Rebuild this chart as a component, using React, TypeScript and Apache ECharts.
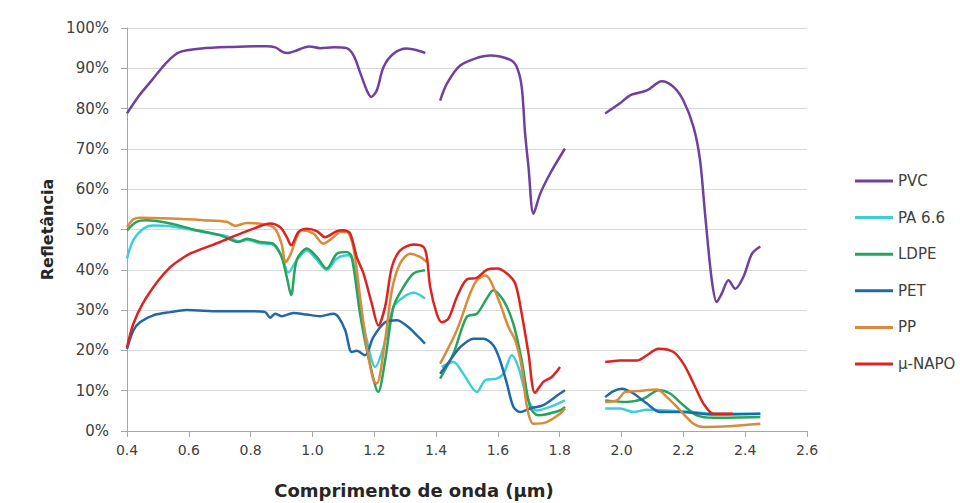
import React, { useEffect, useRef } from "react";
import * as echarts from "echarts";

const GAP = "-";

const pvc: (number | string)[][] = [
  [0.40, 78.8], [0.44, 83.3], [0.48, 87], [0.53, 91.6], [0.57, 94], [0.64, 94.9], [0.74, 95.3], [0.85, 95.5], [0.88, 95.2], [0.905, 94], [0.92, 93.8], [0.94, 94.2], [0.99, 95.4], [1.025, 95], [1.07, 95.2], [1.11, 95], [1.133, 93.2], [1.154, 89], [1.176, 84.5], [1.19, 82.9], [1.208, 84.5], [1.23, 90.3], [1.262, 93.6], [1.305, 94.9], [1.338, 94.5], [1.365, 93.8],
  [1.39, GAP],
  [1.413, 82], [1.435, 86.2], [1.478, 90.7], [1.542, 92.8], [1.575, 93.2], [1.64, 92.1], [1.661, 90.3], [1.677, 85.4], [1.688, 73.8], [1.699, 65.5], [1.715, 53.9], [1.737, 58.9], [1.769, 63.9], [1.817, 70.1],
  [1.88, GAP],
  [1.947, 78.8], [1.995, 81.3], [2.028, 83.3], [2.082, 84.5], [2.13, 86.8], [2.168, 85.4], [2.2, 82], [2.233, 75.4], [2.254, 67.2], [2.27, 54], [2.292, 37.4], [2.308, 32], [2.324, 34.1], [2.346, 37.4], [2.368, 35.3], [2.394, 38.2], [2.422, 44], [2.449, 45.8],
];

const pa66: (number | string)[][] = [
  [0.40, 42.8], [0.42, 47.3], [0.453, 50.2], [0.485, 51], [0.54, 50.8], [0.647, 49.4], [0.733, 48.1], [0.76, 47], [0.79, 47.4], [0.83, 46.6], [0.873, 46.2], [0.9, 43.5], [0.922, 39.3], [0.95, 42.5], [0.982, 44.8], [1.014, 42.5], [1.046, 40], [1.079, 42.8], [1.116, 43.6], [1.13, 42.5], [1.154, 31], [1.176, 22.5], [1.203, 15.9], [1.23, 20.8], [1.262, 30.8], [1.294, 33.2], [1.327, 34.3], [1.364, 32.9],
  [1.39, GAP],
  [1.418, 15.9], [1.456, 17.1], [1.488, 14.2], [1.532, 9.7], [1.559, 12.6], [1.596, 13], [1.618, 14.2], [1.645, 18.8], [1.666, 15.9], [1.694, 8.4], [1.726, 5.1], [1.769, 6], [1.817, 7.6],
  [1.88, GAP],
  [1.947, 5.6], [1.995, 5.6], [2.039, 4.7], [2.082, 5.3], [2.147, 5.1], [2.233, 4.7], [2.297, 4.3], [2.449, 4.3],
];

const ldpe: (number | string)[][] = [
  [0.40, 49.8], [0.431, 51.9], [0.464, 52.3], [0.54, 51.5], [0.615, 50], [0.70, 48.6], [0.76, 46.9], [0.787, 47.7], [0.83, 46.9], [0.873, 46.5], [0.9, 43.2], [0.917, 38.2], [0.931, 33.7], [0.949, 42.4], [0.982, 45.3], [1.014, 43.2], [1.046, 40.3], [1.079, 44], [1.111, 44.4], [1.127, 43.2], [1.154, 29.1], [1.181, 18.4], [1.213, 9.7], [1.235, 17.5], [1.262, 30.8], [1.294, 35.7], [1.327, 39.1], [1.364, 39.9],
  [1.39, GAP],
  [1.413, 13], [1.456, 19.2], [1.499, 28.3], [1.532, 29.1], [1.564, 32.9], [1.585, 34.9], [1.618, 32.4], [1.65, 26.6], [1.677, 17.5], [1.704, 6], [1.731, 3.9], [1.801, 5.1], [1.817, 6],
  [1.88, GAP],
  [1.947, 7.6], [2.017, 7.2], [2.071, 8], [2.12, 10.1], [2.157, 9.3], [2.2, 6.4], [2.244, 3.9], [2.297, 3.3], [2.449, 3.5],
];

const pet: (number | string)[][] = [
  [0.40, 20.4], [0.421, 25], [0.442, 27], [0.485, 28.7], [0.54, 29.5], [0.593, 30], [0.70, 29.7], [0.81, 29.7], [0.847, 29.5], [0.863, 28.1], [0.879, 29.1], [0.9, 28.5], [0.938, 29.3], [0.981, 28.9], [1.025, 28.5], [1.068, 29.1], [1.084, 28.3], [1.106, 25], [1.127, 19.6], [1.143, 19.9], [1.17, 18.8], [1.197, 23.3], [1.235, 27], [1.273, 27.5], [1.31, 25.8], [1.338, 23.7], [1.364, 21.7],
  [1.39, GAP],
  [1.413, 14.2], [1.445, 17.5], [1.478, 20.8], [1.521, 22.9], [1.553, 22.9], [1.585, 21.3], [1.607, 17.5], [1.629, 11.8], [1.65, 6], [1.672, 4.7], [1.704, 5.6], [1.747, 6.4], [1.801, 9.3], [1.817, 10.1],
  [1.88, GAP],
  [1.947, 8.4], [1.974, 9.9], [2.001, 10.5], [2.039, 9.3], [2.082, 6.8], [2.125, 4.7], [2.19, 4.7], [2.297, 4.1], [2.449, 4.3],
];

const pp: (number | string)[][] = [
  [0.40, 50.6], [0.42, 52.5], [0.442, 52.9], [0.54, 52.7], [0.647, 52.3], [0.723, 51.9], [0.75, 50.9], [0.787, 51.6], [0.852, 51.2], [0.879, 50.2], [0.9, 46.5], [0.913, 41.9], [0.93, 44], [0.949, 48.1], [0.965, 49.8], [1.003, 49], [1.035, 46.5], [1.068, 48.1], [1.089, 49.4], [1.111, 49.4], [1.132, 45.7], [1.154, 33.3], [1.176, 20.8], [1.197, 12.6], [1.208, 11.8], [1.235, 22.5], [1.257, 34.9], [1.283, 41.5], [1.316, 44], [1.348, 43.2], [1.37, 41.9],
  [1.39, GAP],
  [1.413, 16.7], [1.467, 25], [1.51, 34.1], [1.532, 37.4], [1.559, 38.6], [1.575, 37.4], [1.607, 31.6], [1.634, 25.8], [1.656, 22.5], [1.677, 15.9], [1.694, 6], [1.715, 1.8], [1.758, 2.2], [1.801, 4.3], [1.817, 5.6],
  [1.88, GAP],
  [1.947, 7.2], [1.985, 7.6], [2.012, 9.7], [2.05, 9.9], [2.114, 10.3], [2.147, 8.4], [2.19, 5.1], [2.233, 1.8], [2.265, 1], [2.351, 1.2], [2.449, 1.8],
];

const napo: (number | string)[][] = [
  [0.40, 20.8], [0.42, 26.5], [0.45, 31.5], [0.50, 37.2], [0.539, 40.6], [0.566, 42.2], [0.604, 44], [0.647, 45.3], [0.701, 46.9], [0.755, 48.6], [0.809, 50.2], [0.863, 51.5], [0.895, 50.6], [0.917, 48.1], [0.931, 46.1], [0.955, 49.4], [0.982, 50.2], [1.014, 49.6], [1.041, 48.1], [1.079, 49.6], [1.1, 49.8], [1.122, 49], [1.143, 43.2], [1.165, 39.1], [1.192, 31.6], [1.213, 26.2], [1.235, 30.8], [1.257, 40.7], [1.284, 44.8], [1.327, 46.3], [1.359, 45.7], [1.37, 43.2], [1.381, 35.7], [1.402, 29.1], [1.418, 27], [1.44, 27.9], [1.467, 33.2], [1.499, 37.6], [1.532, 38], [1.564, 40], [1.597, 40.3], [1.629, 39.1], [1.656, 36.6], [1.677, 29.1], [1.699, 19.2], [1.72, 9.5], [1.747, 12.2], [1.774, 13.4], [1.801, 15.9],
  [1.88, GAP],
  [1.947, 17.1], [1.995, 17.5], [2.05, 17.5], [2.082, 18.8], [2.12, 20.4], [2.168, 19.6], [2.2, 16.7], [2.233, 11.8], [2.265, 6.8], [2.297, 4.3], [2.36, 4.3],
];

const seriesNames = ["PVC", "PA 6.6", "LDPE", "PET", "PP", "\u00b5-NAPO"];
const seriesData = [pvc, pa66, ldpe, pet, pp, napo];
const seriesColors = ["#7040A0", "#3CCFD8", "#26A35C", "#2268A8", "#D98A3A", "#DD2222"];

const FONT = "'DejaVu Sans', sans-serif";

export default function App() {
  const ref = useRef<HTMLDivElement>(null);
  useEffect(() => {
    if (!ref.current) return;
    const chart = echarts.init(ref.current, null, { renderer: "svg" });
    chart.setOption({
      animation: false,
      backgroundColor: "#ffffff",
      grid: { left: 127, right: 153, top: 28, bottom: 72 },
      legend: {
        orient: "vertical",
        left: 850,
        top: 168,
        itemWidth: 38,
        itemHeight: 3,
        itemGap: 20.6,
        icon: "rect",
        textStyle: { fontFamily: FONT, fontSize: 15, color: "#404040", lineHeight: 16 },
        data: seriesNames,
      },
      xAxis: {
        type: "value",
        min: 0.4,
        max: 2.6,
        interval: 0.2,
        axisLine: { show: true, lineStyle: { color: "#A6A6A6", width: 1 } },
        axisTick: { show: true, length: 6, lineStyle: { color: "#A6A6A6" } },
        axisLabel: {
          formatter: (v: number) => v.toFixed(1),
          fontFamily: FONT,
          fontSize: 14,
          color: "#404040",
          margin: 12,
        },
        splitLine: { show: false },
      },
      yAxis: {
        type: "value",
        min: 0,
        max: 100,
        interval: 10,
        name: "Reflet\u00e2ncia",
        nameLocation: "middle",
        nameGap: 68,
        nameTextStyle: { fontFamily: FONT, fontSize: 16, fontWeight: "bold", color: "#262626" },
        axisLine: { show: true, lineStyle: { color: "#A6A6A6", width: 1 } },
        axisTick: { show: true, length: 6, lineStyle: { color: "#A6A6A6" } },
        axisLabel: {
          formatter: "{value}%",
          fontFamily: FONT,
          fontSize: 15,
          color: "#404040",
          margin: 18,
        },
        splitLine: { show: true, lineStyle: { color: "#D9D9D9", width: 1 } },
      },
      graphic: [
        {
          type: "text",
          x: 414,
          y: 490,
          style: {
            text: "Comprimento de onda (\u03bcm)",
            fontFamily: FONT,
            fontSize: 18,
            fontWeight: "bold",
            fill: "#262626",
            align: "center",
            verticalAlign: "middle",
          },
        },
      ],
      series: seriesNames.map((name, i) => ({
        name,
        type: "line",
        data: seriesData[i],
        showSymbol: false,
        symbol: "none",
        smooth: 0.3,
        connectNulls: false,
        lineStyle: { color: seriesColors[i], width: 2.5 },
        itemStyle: { color: seriesColors[i] },
      })),
    });
    return () => chart.dispose();
  }, []);
  return (
    <div
      ref={ref}
      style={{ position: "fixed", left: 0, top: 0, width: 960, height: 503, background: "#fff" }}
    />
  );
}
